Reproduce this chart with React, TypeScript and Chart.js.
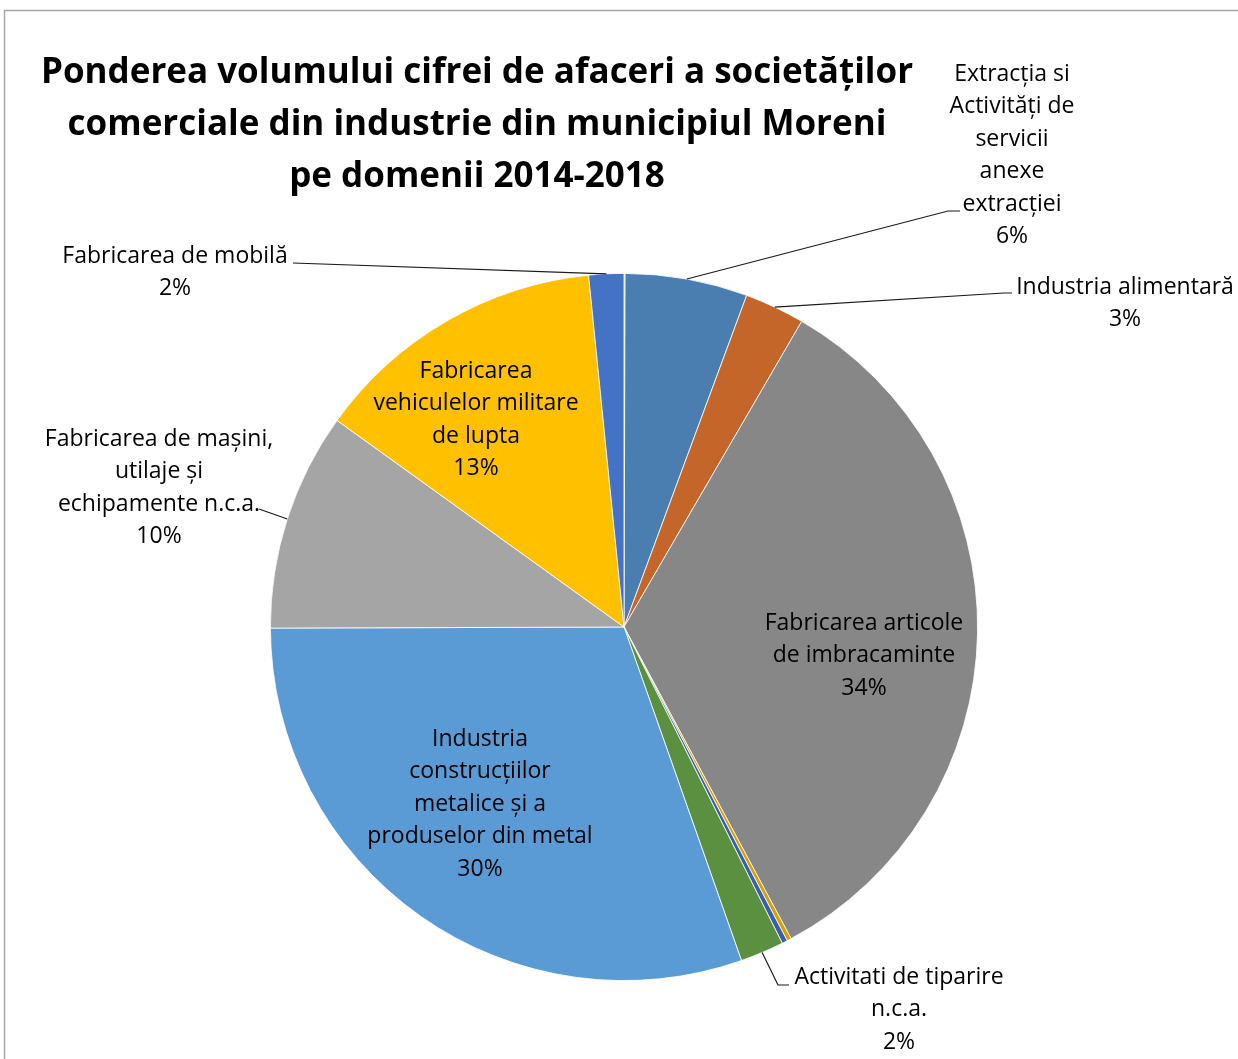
import React, { useEffect, useRef } from "react";
import { Chart, registerables } from "chart.js";

Chart.register(...registerables);

const titleLines = [
  "Ponderea volumului cifrei de afaceri a societăților",
  "comerciale din industrie din municipiul Moreni",
  "pe domenii 2014-2018",
];

const categories = [
  "",
  "Extracția si\nActivități de\nservicii\nanexe\nextracției",
  "Industria alimentară",
  "Fabricarea articole\nde imbracaminte",
  "",
  "",
  "Activitati de tiparire\nn.c.a.",
  "Industria\nconstrucțiilor\nmetalice și a\nproduselor din metal",
  "Fabricarea de mașini,\nutilaje și\nechipamente n.c.a.",
  "Fabricarea\nvehiculelor militare\nde lupta",
  "Fabricarea de mobilă",
];

const shares = [0.05, 5.6, 2.75, 33.85, 0.2, 0.25, 2.0, 30.4, 10.0, 13.5, 1.6];

const colors = [
  "#70ad47",
  "#4a7eb0",
  "#c4652a",
  "#878787",
  "#d9a000",
  "#3a5ea8",
  "#5a9040",
  "#5b9bd5",
  "#a5a5a5",
  "#ffc000",
  "#4472c4",
];

const labelLayout: { i: number; cx: number; y0: number; leader?: [number, number][] }[] = [
  { i: 1, cx: 1012, y0: 74, leader: [[948, 211], [960, 211]] },
  { i: 2, cx: 1125, y0: 287, leader: [[1004, 293], [1012, 293]] },
  { i: 3, cx: 864, y0: 623 },
  { i: 6, cx: 899, y0: 977, leader: [[778, 985], [789, 985]] },
  { i: 7, cx: 480, y0: 739 },
  { i: 8, cx: 159, y0: 439, leader: [[259, 509]] },
  { i: 9, cx: 476, y0: 371 },
  { i: 10, cx: 175, y0: 256, leader: [[293, 263]] },
];

const FONT = "'Open Sans', Lato, sans-serif";

const labelPlugin = {
  id: "excelLabels",
  afterDraw(chart: any) {
    const ctx = chart.ctx as CanvasRenderingContext2D;
    const meta = chart.getDatasetMeta(0);
    const total = shares.reduce((a, b) => a + b, 0);
    ctx.save();
    ctx.strokeStyle = "#a6a6a6";
    ctx.lineWidth = 1.5;
    ctx.beginPath();
    ctx.moveTo(4.5, 1059);
    ctx.lineTo(4.5, 10.5);
    ctx.lineTo(1238, 10.5);
    ctx.stroke();

    ctx.fillStyle = "#000";
    ctx.textAlign = "center";
    ctx.textBaseline = "middle";
    ctx.font = `bold 35px ${FONT}`;
    titleLines.forEach((t, k) => ctx.fillText(t, 477, 73 + k * 52));

    ctx.strokeStyle = "#1a1a1a";
    ctx.lineWidth = 1.2;
    labelLayout.forEach((L) => {
      if (!L.leader) return;
      const arc = meta.data[L.i] as any;
      const p = arc.getProps(["x", "y", "startAngle", "endAngle", "outerRadius"], true);
      const mid = (p.startAngle + p.endAngle) / 2;
      ctx.beginPath();
      ctx.moveTo(p.x + Math.cos(mid) * p.outerRadius, p.y + Math.sin(mid) * p.outerRadius);
      L.leader.forEach(([x, y]) => ctx.lineTo(x, y));
      ctx.stroke();
    });

    ctx.font = `23px ${FONT}`;
    ctx.fillStyle = "#000";
    labelLayout.forEach((L) => {
      const lines = categories[L.i].split("\n");
      lines.push(Math.round((shares[L.i] / total) * 100) + "%");
      lines.forEach((t, k) => ctx.fillText(t, L.cx, L.y0 + k * 32.5));
    });
    ctx.restore();
  },
};

export default function App() {
  const ref = useRef<HTMLCanvasElement | null>(null);
  useEffect(() => {
    document.body.style.margin = "0";
    document.body.style.background = "#fff";
    const chart = new Chart(ref.current as HTMLCanvasElement, {
      type: "pie",
      data: {
        labels: categories.map((c) => c.replace(/\n/g, " ")),
        datasets: [
          {
            data: shares,
            backgroundColor: colors,
            borderColor: "#ffffff",
            borderWidth: 0.8,
          },
        ],
      },
      options: {
        responsive: false,
        animation: false,
        layout: { padding: { top: 273, bottom: 78, left: 270, right: 260 } },
        plugins: {
          legend: { display: false },
          tooltip: { enabled: false },
          title: { display: false },
        },
      },
      plugins: [labelPlugin],
    });
    return () => chart.destroy();
  }, []);
  return (
    <div style={{ width: 1238, height: 1059, background: "#fff" }}>
      <canvas ref={ref} width={1238} height={1059} style={{ display: "block" }} />
    </div>
  );
}
